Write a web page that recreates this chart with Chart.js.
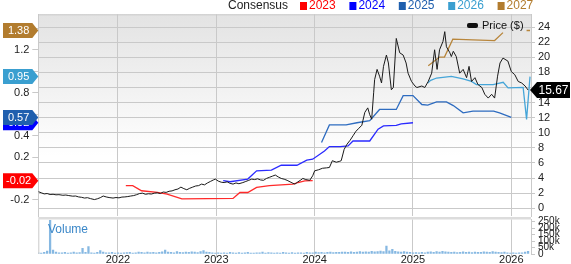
<!DOCTYPE html>
<html>
<head>
<meta charset="utf-8">
<script src="https://cdn.jsdelivr.net/npm/chart.js@4.4.1/dist/chart.umd.min.js"></script>
<style>
  html, body { margin: 0; padding: 0; background: #fff; overflow: hidden; }
  #wrap { position: relative; width: 571px; height: 264px; }
  #main { position: absolute; left: 0; top: 0; }
  #vol  { position: absolute; left: 0; top: 205px; }
</style>
</head>
<body>
<div id="wrap">
  <canvas id="main" width="571" height="226"></canvas>
  <canvas id="vol" width="571" height="59"></canvas>
</div>
<script>
/* consensus / price chart */

// ---- data (x = decimal year) ----
const yearTicks = [2022, 2023, 2024, 2025, 2026]
const consensusYears = ['2023', '2024', '2025', '2026', '2027']
const volTicks = [0, 50000, 100000, 150000, 200000, 250000]

const priceDates = [
  2021.19, 2021.22, 2021.25, 2021.28, 2021.31, 2021.34, 2021.37, 2021.40, 2021.44, 2021.47,
  2021.50, 2021.54, 2021.57, 2021.60, 2021.63, 2021.66, 2021.69, 2021.72, 2021.76, 2021.79,
  2021.82, 2021.85, 2021.88, 2021.91, 2021.95, 2021.98, 2022.01, 2022.04, 2022.07, 2022.10,
  2022.13, 2022.16, 2022.19, 2022.22, 2022.25, 2022.28, 2022.31, 2022.34, 2022.37, 2022.40,
  2022.43, 2022.46, 2022.49, 2022.52, 2022.55, 2022.58, 2022.61, 2022.64, 2022.67, 2022.70,
  2022.73, 2022.76, 2022.79, 2022.82, 2022.85, 2022.88, 2022.91, 2022.94, 2022.97, 2022.99,
  2023.02, 2023.05, 2023.08, 2023.11, 2023.14, 2023.17, 2023.20, 2023.23, 2023.27, 2023.30,
  2023.33, 2023.36, 2023.39, 2023.42, 2023.45, 2023.48, 2023.51, 2023.54, 2023.57, 2023.60,
  2023.63, 2023.66, 2023.69, 2023.72, 2023.75, 2023.78, 2023.80, 2023.83, 2023.86, 2023.88,
  2023.91, 2023.95, 2023.98, 2024.00, 2024.04, 2024.08, 2024.12, 2024.15, 2024.18, 2024.22,
  2024.25, 2024.27, 2024.30, 2024.33, 2024.36, 2024.39, 2024.42, 2024.45, 2024.48, 2024.51,
  2024.54, 2024.56, 2024.58, 2024.60, 2024.61, 2024.635, 2024.66, 2024.68, 2024.70, 2024.73,
  2024.75, 2024.78, 2024.80, 2024.83, 2024.865, 2024.90, 2024.93, 2024.95, 2024.985, 2025.02,
  2025.04, 2025.09, 2025.12, 2025.155, 2025.19, 2025.22, 2025.245, 2025.27, 2025.305, 2025.323,
  2025.34, 2025.375, 2025.39, 2025.41, 2025.44, 2025.475, 2025.51, 2025.545, 2025.57, 2025.595,
  2025.63, 2025.66, 2025.70, 2025.73, 2025.765, 2025.80, 2025.83, 2025.86, 2025.885, 2025.915,
  2025.965, 2026.00, 2026.035, 2026.07, 2026.105, 2026.14, 2026.17
]
const priceValues = [
  2.20, 2.05, 1.90, 1.95, 1.82, 1.85, 1.78, 1.80, 1.72, 1.75,
  1.68, 1.60, 1.62, 1.50, 1.45, 1.35, 1.40, 1.28, 1.15, 1.25,
  1.40, 1.62, 1.50, 1.42, 1.35, 1.42, 1.38, 1.48, 1.50, 1.55,
  1.62, 1.68, 1.80, 1.95, 2.00, 1.85, 1.92, 1.88, 2.00, 2.05,
  1.95, 2.15, 2.10, 2.25, 2.30, 2.45, 2.55, 2.80, 2.60, 2.45,
  2.65, 2.80, 2.95, 3.00, 3.20, 3.10, 3.35, 3.55, 3.75, 3.86,
  3.60, 3.45, 3.40, 3.50, 3.30, 3.20, 3.35, 3.25, 3.40, 3.55,
  3.70, 3.86, 3.80, 3.90, 3.75, 3.70, 3.95, 4.10, 4.25, 4.40,
  4.15, 3.95, 3.85, 3.70, 3.50, 3.30, 3.20, 3.50, 3.75, 3.95,
  3.80, 3.70, 4.30, 4.96, 5.10, 5.30, 5.35, 5.40, 6.30, 6.10,
  6.20, 6.30, 7.80, 8.50, 9.00, 9.60, 10.20, 10.60, 11.00, 12.70,
  13.30, 12.40, 11.80, 15.30, 17.05, 18.40, 17.50, 16.60, 18.80, 20.30,
  19.25, 15.70, 16.00, 22.50, 20.60, 20.30, 19.25, 17.90, 16.80, 16.20,
  16.00, 16.20, 16.00, 16.80, 17.90, 21.00, 18.40, 21.00, 22.10, 23.40,
  21.40, 20.60, 20.10, 20.80, 20.10, 17.90, 18.40, 17.30, 18.80, 16.80,
  17.30, 16.40, 16.00, 15.10, 14.60, 15.10, 14.60, 17.50, 19.25, 19.90,
  19.50, 18.10, 17.70, 16.80, 16.60, 16.20, 15.67
]

// EPS consensus per fiscal year
const c2023Dates = [2022.08, 2022.15, 2022.24, 2022.40, 2022.50, 2022.65, 2023.17, 2023.24, 2023.32, 2023.41, 2023.54, 2023.78, 2023.83, 2023.90, 2023.98]
const c2023 = [-0.067, -0.067, -0.114, -0.13, -0.145, -0.19, -0.185, -0.13, -0.13, -0.082, -0.067, -0.052, -0.037, -0.021, -0.02]

const c2024Dates = [2023.07, 2023.14, 2023.32, 2023.41, 2023.56, 2023.66, 2023.82, 2023.92, 2023.98, 2024.10, 2024.15, 2024.26, 2024.34, 2024.39, 2024.56, 2024.645, 2024.70, 2024.83, 2024.88, 2025.00]
const c2024 = [-0.02, -0.03, -0.005, 0.072, 0.078, 0.124, 0.124, 0.171, 0.18, 0.257, 0.298, 0.298, 0.304, 0.35, 0.35, 0.46, 0.49, 0.495, 0.51, 0.52]

const c2025Dates = [2024.07, 2024.15, 2024.32, 2024.43, 2024.56, 2024.66, 2024.83, 2024.90, 2025.00, 2025.09, 2025.15, 2025.24, 2025.34, 2025.41, 2025.51, 2025.61, 2025.82, 2025.88, 2026.00]
const c2025 = [0.335, 0.50, 0.50, 0.52, 0.54, 0.644, 0.644, 0.773, 0.773, 0.69, 0.685, 0.715, 0.715, 0.68, 0.613, 0.628, 0.628, 0.613, 0.57]

const c2026Dates = [2025.15, 2025.18, 2025.24, 2025.39, 2025.51, 2025.595, 2025.645, 2025.815, 2025.917, 2025.967, 2026.12, 2026.155, 2026.19]
const c2026 = [0.89, 0.915, 0.937, 0.952, 0.928, 0.906, 0.876, 0.876, 0.897, 0.845, 0.85, 0.551, 0.95]

const c2027Dates = [2025.155, 2025.27, 2025.32, 2025.405, 2025.61, 2025.83, 2025.915, 2026.00, 2026.155, 2026.19]
const c2027 = [1.052, 1.132, 1.132, 1.299, 1.293, 1.286, 1.36, null, 1.38, 1.38]

// volume, thousands of shares, one bar every VOL_STEP years from VOL_START
const VOL_START = 2021.19
const VOL_STEP = 0.03
const volumeK = [
  10, 8, 12, 22, 260, 30, 14, 10, 9, 12,
  8, 10, 14, 9, 11, 44, 12, 57, 10, 8,
  12, 26, 15, 10, 9, 12, 8, 10, 7, 9,
  11, 13, 8, 10, 14, 12, 9, 15, 11, 13,
  10, 12, 16, 31, 14, 12, 10, 18, 13, 11,
  15, 12, 17, 14, 11, 19, 26, 15, 12, 10,
  8, 9, 7, 10, 8, 12, 9, 7, 11, 8,
  9, 13, 8, 7, 10, 9, 14, 8, 11, 9,
  7, 10, 8, 12, 9, 8, 11, 7, 10, 9,
  8, 12, 10, 9, 15, 11, 13, 10, 12, 14,
  11, 13, 12, 15, 14, 12, 16, 13, 15, 18,
  14, 17, 15, 20, 16, 19, 22, 18, 62, 25,
  36, 20, 17, 15, 18, 14, 12, 10, 11, 9,
  12, 10, 14, 16, 13, 18, 15, 20, 17, 14,
  12, 15, 11, 13, 16, 12, 14, 11, 15, 13,
  12, 16, 14, 13, 18, 15, 12, 11, 14, 10,
  8, 9, 7, 10, 9, 14, 21
]

// ---- style ----
const FONT = '"Liberation Sans", Arial, sans-serif'
const GRID = '#c9c9c9'
const X_MIN = 2021.19, X_MAX = 2026.20
const tagColors  = ['#ff0000', '#0000ff', '#1f5fae', '#3a9fd0', '#b27c2e']
const lineColors = ['#ff2a2a', '#2a2aff', '#2e6cc0', '#45a5d8', '#b8863c']

Chart.defaults.font.family = FONT
Chart.defaults.font.size = 11
Chart.defaults.color = '#222'

const pts = (xs, ys) => xs.map((x, i) => ({ x, y: ys[i] }))
const yearTickList = s => { s.ticks = yearTicks.map(v => ({ value: v })) }

const consensus = [
  pts(c2023Dates, c2023), pts(c2024Dates, c2024), pts(c2025Dates, c2025),
  pts(c2026Dates, c2026), pts(c2027Dates, c2027)
]
const lastVal = d => { for (let i = d.length - 1; i >= 0; i--) if (d[i].y != null) return d[i].y }
const tagValues = consensus.map(lastVal)

function tag(ctx, tipX, y, color, text, side) {
  const h = 15
  ctx.save()
  ctx.fillStyle = color
  ctx.beginPath()
  if (side === 'left') {
    const x0 = 3, x1 = tipX - 6
    ctx.moveTo(x0, y - h / 2); ctx.lineTo(x1, y - h / 2); ctx.lineTo(tipX, y)
    ctx.lineTo(x1, y + h / 2); ctx.lineTo(x0, y + h / 2)
  } else {
    const x1 = tipX + 7, x2 = 570
    ctx.moveTo(x2, y - 8); ctx.lineTo(x1, y - 8); ctx.lineTo(tipX, y)
    ctx.lineTo(x1, y + 8); ctx.lineTo(x2, y + 8)
  }
  ctx.closePath()
  ctx.fill()
  ctx.fillStyle = '#fff'
  ctx.font = (side === 'left' ? '11px ' : '12px ') + FONT
  ctx.textAlign = 'center'
  ctx.textBaseline = 'middle'
  ctx.fillText(text, side === 'left' ? (3 + tipX - 6) / 2 + 1 : (tipX + 7 + 570) / 2, y + 0.5)
  ctx.restore()
}

const mainDecor = {
  id: 'mainDecor',
  beforeDraw(chart) {
    const { ctx, chartArea: a } = chart
    const g = ctx.createLinearGradient(0, a.top, 0, a.bottom)
    g.addColorStop(0, '#e3e3e3')
    g.addColorStop(0.7, '#ffffff')
    g.addColorStop(1, '#ffffff')
    ctx.save()
    ctx.fillStyle = g
    ctx.fillRect(a.left, a.top, a.right - a.left, a.bottom - a.top)
    ctx.restore()
  },
  beforeDatasetsDraw(chart) {
    const { ctx, chartArea: a } = chart
    ctx.save()
    ctx.strokeStyle = GRID
    ctx.lineWidth = 1
    ctx.beginPath()
    ctx.moveTo(a.left, a.top + 0.5); ctx.lineTo(a.right, a.top + 0.5)
    ctx.stroke()
    ctx.restore()
  },
  afterDraw(chart) {
    const { ctx } = chart
    const yEps = chart.scales.yEps, yPrice = chart.scales.yPrice

    // top legend
    ctx.save()
    ctx.font = '12px ' + FONT
    ctx.textBaseline = 'middle'
    ctx.textAlign = 'right'
    ctx.fillStyle = '#222'
    ctx.fillText('Consensus', 288, 6)
    ctx.textAlign = 'left'
    consensusYears.forEach((yr, i) => {
      const gx = 300 + i * 49.4
      ctx.fillStyle = tagColors[i]
      ctx.fillRect(gx, 2, 7, 8)
      ctx.fillText(yr, gx + 9, 6)
    })

    // price legend inside plot
    ctx.fillStyle = '#111'
    ctx.beginPath()
    ctx.roundRect(467, 23, 11, 5, 2)
    ctx.fill()
    ctx.font = '11px ' + FONT
    ctx.fillText('Price ($)', 482, 26)
    ctx.restore()

    // value tags
    tagValues.forEach((v, i) => {
      tag(ctx, chart.chartArea.left, yEps.getPixelForValue(v), tagColors[i], v.toFixed(2), 'left')
    })
    const lastPrice = priceValues[priceValues.length - 1]
    tag(ctx, chart.chartArea.right - 1, yPrice.getPixelForValue(lastPrice), '#000', lastPrice.toFixed(2), 'right')
  }
}

new Chart(document.getElementById('main'), {
  type: 'line',
  data: {
    datasets: [
      { label: 'Price ($)', data: pts(priceDates, priceValues), yAxisID: 'yPrice', borderColor: '#1a1a1a', borderWidth: 1 },
      ...consensus.map((d, i) => ({
        label: consensusYears[i], data: d, yAxisID: 'yEps',
        borderColor: lineColors[i], borderWidth: 1.3, spanGaps: false
      }))
    ]
  },
  options: {
    responsive: false,
    animation: false,
    events: [],
    layout: { padding: { top: 14.3, bottom: 8.5, left: 0, right: 0 } },
    elements: { point: { radius: 0 }, line: { tension: 0 } },
    plugins: { legend: { display: false }, tooltip: { enabled: false } },
    scales: {
      x: {
        type: 'linear', min: X_MIN, max: X_MAX,
        ticks: { display: false },
        afterBuildTicks: yearTickList,
        grid: { color: GRID, drawTicks: false },
        border: { display: false },
        afterFit: s => { s.height = 0 }
      },
      yEps: {
        position: 'left', min: -0.353, max: 1.531,
        ticks: {
          stepSize: 0.2, includeBounds: false, padding: 3, color: '#222',
          // labels under a value tag are left out, as in the source
          callback: v => tagValues.some(t => Math.abs(t - v) < 0.08) ? '' : String(Math.round(v * 10) / 10)
        },
        grid: { drawOnChartArea: false, tickLength: 6, color: GRID },
        border: { color: GRID },
        afterFit: s => { s.width = 38.3 }
      },
      yPrice: {
        position: 'right', min: -1.08, max: 25.7,
        ticks: { stepSize: 2, includeBounds: false, padding: 3, color: '#222' },
        grid: { color: GRID, tickLength: 4 },
        border: { color: GRID },
        afterFit: s => { s.width = 40 }
      }
    }
  },
  plugins: [mainDecor]
})

// ---- volume panel ----
const volDecor = {
  id: 'volDecor',
  beforeDraw(chart) {
    const { ctx, chartArea: a } = chart
    ctx.save()
    ctx.fillStyle = '#fff'
    ctx.fillRect(0, a.top - 2.5, chart.width, chart.height)
    ctx.fillStyle = '#dcdcdc'
    ctx.fillRect(a.left, a.top - 2.5, a.right - a.left, 2.5)
    ctx.restore()
  },
  afterDraw(chart) {
    const { ctx, chartArea: a } = chart
    ctx.save()
    ctx.strokeStyle = GRID
    ctx.beginPath()
    ctx.moveTo(a.left + 0.5, a.top); ctx.lineTo(a.left + 0.5, a.bottom)
    ctx.stroke()
    ctx.font = '12px ' + FONT
    ctx.fillStyle = '#3a87c8'
    ctx.textBaseline = 'middle'
    ctx.fillText('Volume', 48, a.top + 10)
    ctx.restore()
  }
}

new Chart(document.getElementById('vol'), {
  type: 'bar',
  data: {
    datasets: [{
      data: volumeK.map((v, i) => ({ x: VOL_START + i * VOL_STEP, y: v * 1000 })),
      backgroundColor: '#86b8e2',
      barThickness: 1.6
    }]
  },
  options: {
    responsive: false,
    animation: false,
    events: [],
    layout: { padding: { top: 14.5, left: 38.3, right: 0, bottom: 0 } },
    plugins: { legend: { display: false }, tooltip: { enabled: false } },
    scales: {
      x: {
        type: 'linear', min: X_MIN, max: X_MAX, offset: false,
        ticks: { padding: -5, color: '#222', callback: v => String(v) },
        afterBuildTicks: yearTickList,
        grid: { color: GRID, tickLength: 4, offset: false },
        border: { display: false },
        afterFit: s => { s.height = 10 }
      },
      y: {
        position: 'right', min: 0, max: 267000,
        ticks: {
          autoSkip: false, padding: 3, color: '#222',
          font: { size: 10 },
          callback: v => v === 0 ? '0' : (v / 1000) + 'k'
        },
        afterBuildTicks: s => { s.ticks = volTicks.map(v => ({ value: v })) },
        grid: { drawOnChartArea: false, tickLength: 4, color: GRID },
        border: { color: GRID },
        afterFit: s => { s.width = 40 }
      }
    }
  },
  plugins: [volDecor]
})
</script>
</body>
</html>
